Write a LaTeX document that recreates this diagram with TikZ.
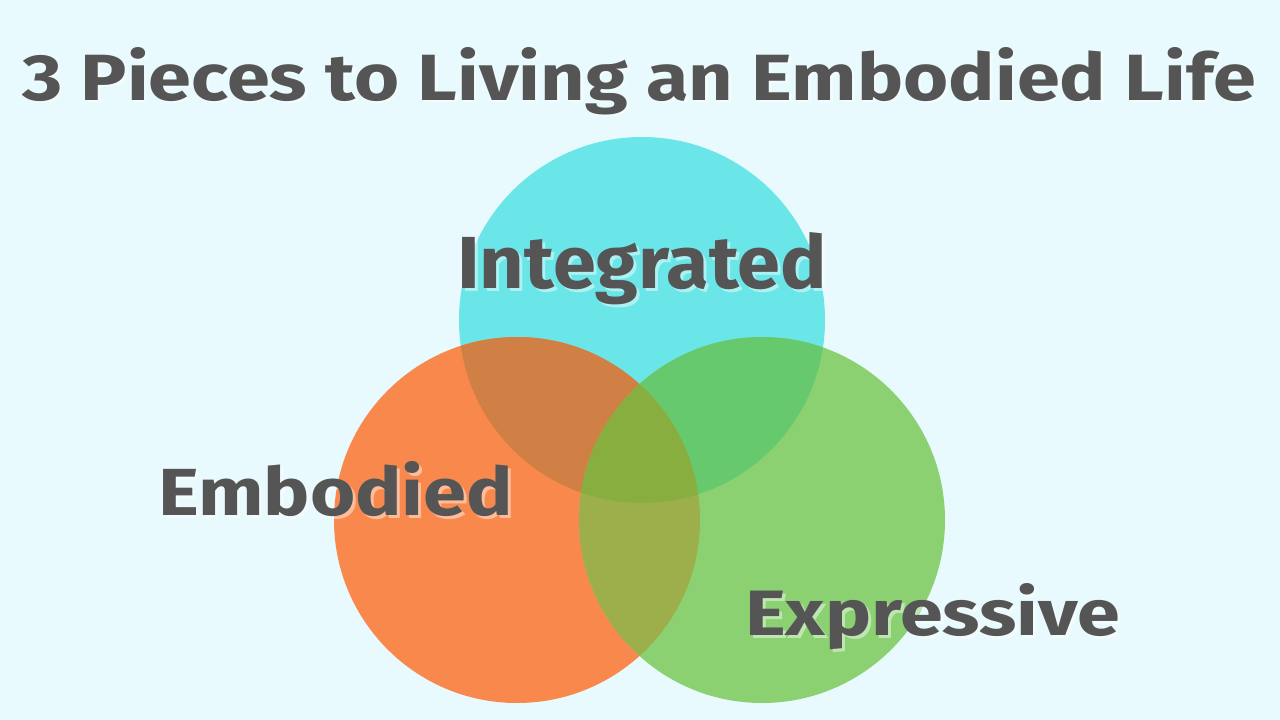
\documentclass[tikz,border=0pt]{standalone}
\usepackage{fontspec}
\setmainfont{Fira Sans}
\usepackage{graphicx}
\definecolor{bg}{HTML}{E8FAFD}
\definecolor{cyanc}{HTML}{6AE6E9}
\definecolor{orangec}{HTML}{F8884C}
\definecolor{greenc}{HTML}{8BD172}
\definecolor{co}{HTML}{D18045}
\definecolor{cg}{HTML}{66C96D}
\definecolor{og}{HTML}{9CAF4B}
\definecolor{cog}{HTML}{89AE40}
\definecolor{txt}{HTML}{555555}
\newcommand{\shtext}[3]{% width, height, text
  \resizebox{#1pt}{#2pt}{\bfseries #3}}
\tikzset{
  lbl/.style={anchor=base west, inner sep=0pt, outer sep=0pt, text=txt},
  shadowlbl/.style={anchor=base west, inner sep=0pt, outer sep=0pt, text=white, text opacity=0.45}
}
\begin{document}
\begin{tikzpicture}[x=1pt,y=-1pt]
\fill[bg] (0,0) rectangle (1280,720);
\useasboundingbox (0,0) rectangle (1280,720);
% circles
\coordinate (C) at (642,320);
\coordinate (O) at (517,520);
\coordinate (G) at (762,520);
\fill[cyanc] (C) circle[radius=183];
\fill[orangec] (O) circle[radius=183];
\fill[greenc] (G) circle[radius=183];
\begin{scope}
  \clip (C) circle[radius=183];
  \fill[co] (O) circle[radius=183];
  \fill[cg] (G) circle[radius=183];
\end{scope}
\begin{scope}
  \clip (O) circle[radius=183];
  \fill[og] (G) circle[radius=183];
  \clip (G) circle[radius=183];
  \fill[cog] (C) circle[radius=183];
\end{scope}
% shadows
\node[shadowlbl] (ts) at (24.5,102.5) {\shtext{1233}{53}{3 Pieces to Living an Embodied Life}};
\node[shadowlbl] (is) at (460,291) {\shtext{370}{56}{Integrated}};
\node[shadowlbl] (es) at (161,518) {\shtext{355}{54}{Embodied}};
\node[shadowlbl] (xs) at (748,638) {\shtext{375}{52}{Expressive}};
% labels
\node[lbl] (title) at (22,100) {\shtext{1233}{53}{3 Pieces to Living an Embodied Life}};
\node[lbl] (integ) at (457,288) {\shtext{370}{56}{Integrated}};
\node[lbl] (embod) at (158,515) {\shtext{355}{54}{Embodied}};
\node[lbl] (expr) at (745,635) {\shtext{375}{52}{Expressive}};
\end{tikzpicture}
\end{document}
